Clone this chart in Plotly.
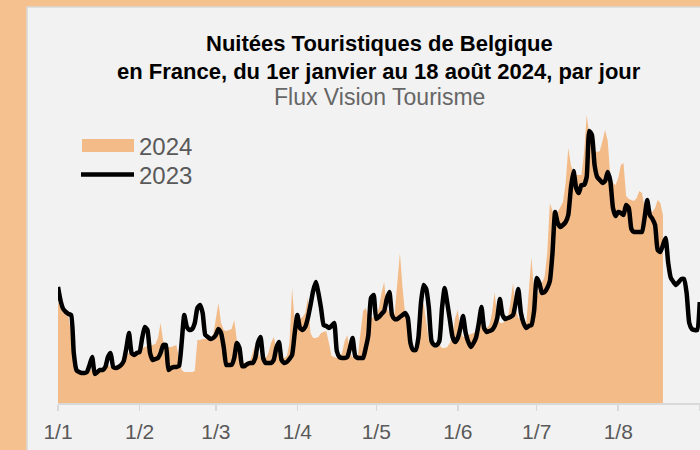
import pandas as pd
import plotly.graph_objects as go

# ---- data (daily values, arbitrary units) ----
values_2024 = [
    101, 95, 90, 88, 86, 70, 45, 33, 31, 31,
    31, 32, 34, 33, 32, 32, 33, 33, 35, 38,
    36, 35, 36, 37, 40, 44, 48, 50, 51, 51,
    52, 53, 55, 56, 57, 58, 58, 59, 65, 80,
    62, 56, 56, 56, 57, 58, 45, 33, 31, 31,
    31, 31, 32, 63, 63, 64, 64, 65, 66, 68,
    85, 100, 80, 73, 72, 73, 74, 83, 60, 42,
    40, 40, 41, 42, 50, 58, 52, 45, 44, 45,
    50, 60, 66, 55, 48, 45, 45, 47, 60, 115,
    80, 82, 84, 86, 90, 105, 70, 65, 65, 66,
    70, 71, 72, 60, 47, 46, 45, 46, 50, 62,
    68, 50, 46, 46, 47, 70, 92, 95, 86, 85,
    86, 88, 95, 110, 121, 95, 90, 88, 90, 120,
    150, 115, 88, 75, 58, 55, 55, 70, 90, 100,
    80, 62, 60, 60, 60, 58, 55, 55, 56, 60,
    68, 85, 93, 72, 66, 67, 68, 69, 70, 72,
    85, 78, 74, 75, 78, 90, 111, 85, 80, 80,
    82, 84, 100, 120, 95, 85, 84, 80, 78, 110,
    146, 110, 105, 116, 120, 126, 150, 200, 192, 188,
    191, 196, 201, 220, 255, 238, 230, 228, 228, 228,
    250, 288, 268, 260, 252, 251, 252, 262, 273, 262,
    226, 220, 218, 225, 238, 240, 207, 204, 203, 202,
    205, 212, 210, 196, 192, 191, 191, 195, 203, 200,
    188,
]

values_2023 = [
    116, 102, 94, 91, 89, 88, 50, 33, 31, 30,
    30, 31, 38, 46, 29, 31, 33, 33, 36, 46,
    50, 36, 35, 36, 38, 42, 55, 70, 50, 48,
    50, 51, 65, 76, 73, 50, 43, 44, 45, 50,
    58, 58, 33, 35, 36, 36, 37, 60, 88, 76,
    73, 74, 80, 95, 98, 90, 68, 66, 64, 65,
    68, 74, 70, 56, 38, 38, 38, 45, 60, 55,
    37, 37, 39, 40, 40, 45, 60, 66, 45, 40,
    40, 40, 43, 55, 61, 43, 40, 41, 44, 48,
    70, 88, 75, 73, 76, 85, 98, 112, 121, 110,
    95, 78, 77, 75, 77, 80, 52, 46, 45, 45,
    46, 55, 65, 47, 45, 45, 45, 55, 68, 105,
    108, 84, 86, 89, 92, 104, 111, 88, 84, 84,
    86, 88, 90, 85, 60, 53, 53, 65, 100, 118,
    114, 95, 62, 58, 58, 62, 95, 115, 100, 83,
    66, 61, 65, 75, 87, 70, 61, 56, 60, 66,
    80, 96, 75, 71, 72, 73, 77, 85, 104, 88,
    84, 85, 86, 88, 100, 114, 90, 80, 75, 77,
    78, 92, 125, 120, 110, 111, 115, 122, 150, 191,
    180, 176, 178, 181, 188, 215, 232, 215, 210, 218,
    218, 226, 272, 268, 238, 226, 223, 220, 222, 231,
    222, 195, 187, 191, 190, 188, 198, 195, 174, 171,
    171, 171, 171, 185, 203, 188, 184, 178, 153, 151,
    158, 165, 140, 125, 121, 118, 121, 124, 124, 110,
    80, 74, 73, 73, 101,
]

tick_dates = ["2024-01-01", "2024-02-01", "2024-03-01", "2024-04-01",
              "2024-05-01", "2024-06-01", "2024-07-01", "2024-08-01", "2024-09-01"]
tick_labels = ["1/1", "1/2", "1/3", "1/4", "1/5", "1/6", "1/7", "1/8", ""]

title_line1 = "Nuitées Touristiques de Belgique"
title_line2 = "en France, du 1er janvier au 18 août 2024, par jour"
subtitle = "Flux Vision Tourisme"
series_names = ["2024", "2023"]

# ---- styling ----
ORANGE = "#F2BB88"
BORDER = "#F5C18E"
PANEL = "#F2F2F2"
GRID = "#D9D9D9"
TXT = "#595959"
FONT = "Liberation Sans, Arial, sans-serif"

dates_2024 = pd.date_range("2024-01-01", periods=len(values_2024), freq="D")
dates_2023 = pd.date_range("2024-01-01", periods=len(values_2023), freq="D")

fig = go.Figure()
fig.add_trace(go.Scatter(
    x=dates_2024, y=values_2024, name=series_names[0],
    mode="lines", fill="tozeroy", fillcolor=ORANGE,
    line=dict(width=0, color=ORANGE), showlegend=False, hoverinfo="skip",
))
fig.add_trace(go.Scatter(
    x=dates_2023, y=values_2023, name=series_names[1],
    mode="lines", line=dict(color="black", width=4.5, shape="spline", smoothing=0.5),
    showlegend=False, hoverinfo="skip",
))

# plot area geometry (pixels) -> paper coords helpers
L, R, T, B = 58, 0, 100, 47
W, H = 700, 450
pw, ph = W - L - R, H - T - B


def px(xp):
    return (xp - L) / pw


def py(yp):
    return (H - B - yp) / ph


shapes = [
    # grey panel
    dict(type="rect", xref="paper", yref="paper", x0=px(27), x1=px(760), y0=py(480), y1=py(7),
         fillcolor=PANEL, line=dict(color=GRID, width=1.5), layer="below"),
    # legend swatches
    dict(type="rect", xref="paper", yref="paper", x0=px(82), x1=px(134), y0=py(152), y1=py(139),
         fillcolor=ORANGE, line=dict(width=0)),
    dict(type="line", xref="paper", yref="paper", x0=px(81), x1=px(134), y0=py(174.5), y1=py(174.5),
         line=dict(color="black", width=4.5)),
]

annotations = [
    dict(text="<b>" + title_line1 + "</b>", x=0.5, y=py(43), xref="paper", yref="paper",
         xanchor="center", yanchor="middle", showarrow=False,
         font=dict(family=FONT, size=22, color="black")),
    dict(text="<b>" + title_line2 + "</b>", x=0.5, y=py(71), xref="paper", yref="paper",
         xanchor="center", yanchor="middle", showarrow=False,
         font=dict(family=FONT, size=22, color="black")),
    dict(text=subtitle, x=0.5, y=py(97), xref="paper", yref="paper",
         xanchor="center", yanchor="middle", showarrow=False,
         font=dict(family=FONT, size=23, color="#666666")),
    dict(text=series_names[0], x=px(137), y=py(146), xref="paper", yref="paper",
         xanchor="left", yanchor="middle", showarrow=False,
         font=dict(family=FONT, size=24, color=TXT)),
    dict(text=series_names[1], x=px(137), y=py(175), xref="paper", yref="paper",
         xanchor="left", yanchor="middle", showarrow=False,
         font=dict(family=FONT, size=24, color=TXT)),
]

fig.update_layout(
    width=W, height=H,
    margin=dict(l=L, r=R, t=T, b=B, pad=0),
    paper_bgcolor=BORDER,
    plot_bgcolor="rgba(0,0,0,0)",
    shapes=shapes,
    annotations=annotations,
    showlegend=False,
    hovermode=False,
    font=dict(family=FONT),
    xaxis=dict(
        type="date",
        range=["2024-01-01", "2024-09-01 02:00"],
        tickvals=tick_dates, ticktext=tick_labels,
        ticks="outside", ticklen=6, tickcolor=GRID, tickwidth=1.5,
        ticklabelstandoff=3,
        showline=True, linecolor=GRID, linewidth=2,
        showgrid=False, zeroline=False,
        tickfont=dict(family=FONT, size=21, color=TXT),
    ),
    yaxis=dict(
        range=[0, ph],
        visible=False, showgrid=False, zeroline=False,
    ),
)

fig.write_html(
    "out.html",
    config={"displayModeBar": False, "staticPlot": True},
    post_script="document.body.style.margin='0';document.body.style.padding='0';",
)
